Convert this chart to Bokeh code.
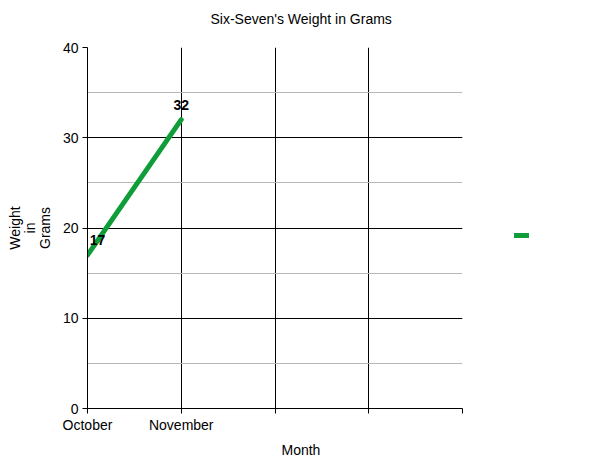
from bokeh.models import ColumnDataSource, FixedTicker, Legend, LegendItem, Title
from bokeh.plotting import figure
from bokeh.embed import file_html
from bokeh.resources import INLINE
from bokeh.core.properties import value

# chart data
months = ["October", "November", "", "", ""]
weights = [17, 32]
title_text = "Six-Seven's Weight in Grams"
x_title = "Month"
y_title = "Weight\nin\nGrams"

FONT = "Liberation Sans"
SIZE = "14px"
GREEN = "#0f9d3a"

x_pos = list(range(len(weights)))
label_dx = [10, 0]  # first label nudged inside the frame
source = ColumnDataSource(data=dict(
    x=x_pos, y=weights, label=[str(w) for w in weights], dx=label_dx))

p = figure(frame_width=375, frame_height=361, x_range=(0, len(months) - 1), y_range=(0, 40),
           output_backend="svg", toolbar_location=None,
           min_border_left=87, min_border_right=130, min_border_top=47, min_border_bottom=47)
p.outline_line_color = None

line = p.line(x="x", y="y", source=source, line_width=5, color=GREEN, line_cap="round")
p.text(x="x", y="y", text="label", source=source, x_offset="dx", y_offset=-15,
       text_align="center", text_baseline="middle", text_font=value(FONT),
       text_font_size=SIZE, text_font_style="bold", text_color="black")

# axes
p.xaxis.ticker = FixedTicker(ticks=list(range(len(months))))
p.xaxis.major_label_overrides = {i: m for i, m in enumerate(months)}
p.yaxis.ticker = FixedTicker(ticks=[0, 10, 20, 30, 40], minor_ticks=[5, 15, 25, 35])
for ax in (p.xaxis, p.yaxis):
    ax.axis_line_color = "black"
    ax.major_tick_line_color = "black"
    ax.major_tick_out = 5
    ax.major_tick_in = 0
    ax.minor_tick_line_color = None
    ax.major_label_text_font = FONT
    ax.major_label_text_font_size = SIZE
    ax.major_label_text_color = "black"
p.xaxis.major_label_standoff = 3
p.yaxis.major_label_standoff = 4

p.yaxis.axis_label = y_title
p.yaxis.axis_label_text_font = FONT
p.yaxis.axis_label_text_font_size = SIZE
p.yaxis.axis_label_text_font_style = "normal"
p.yaxis.axis_label_text_color = "black"
p.yaxis.axis_label_text_align = "center"
p.yaxis.axis_label_text_line_height = 0.95
p.yaxis.axis_label_standoff = 7

# grid
p.xgrid.grid_line_color = "black"
p.ygrid.grid_line_color = "black"
p.ygrid.minor_grid_line_color = "#b7b7b7"

# title and x label sit centred on the whole chart, not the frame;
# the blank second line lifts the title towards the top edge
p.title.text = title_text + "\n "
p.title.align = "left"
p.title.offset = 123
p.title.standoff = 10
p.title.text_font = FONT
p.title.text_font_size = SIZE
p.title.text_font_style = "normal"
p.title.text_color = "black"

p.add_layout(Title(text=x_title, align="left", offset=194, standoff=9,
                   text_font=FONT, text_font_size=SIZE, text_font_style="normal",
                   text_color="black"), "below")

legend = Legend(items=[LegendItem(label=" ", renderers=[line])], location=(52, 168),
                padding=0, margin=0, spacing=0, glyph_width=15, glyph_height=10,
                label_standoff=0, label_text_font_size="1px",
                border_line_color=None, background_fill_alpha=0)
p.add_layout(legend, "right")

open("out.html", "w").write(file_html(p, INLINE))
